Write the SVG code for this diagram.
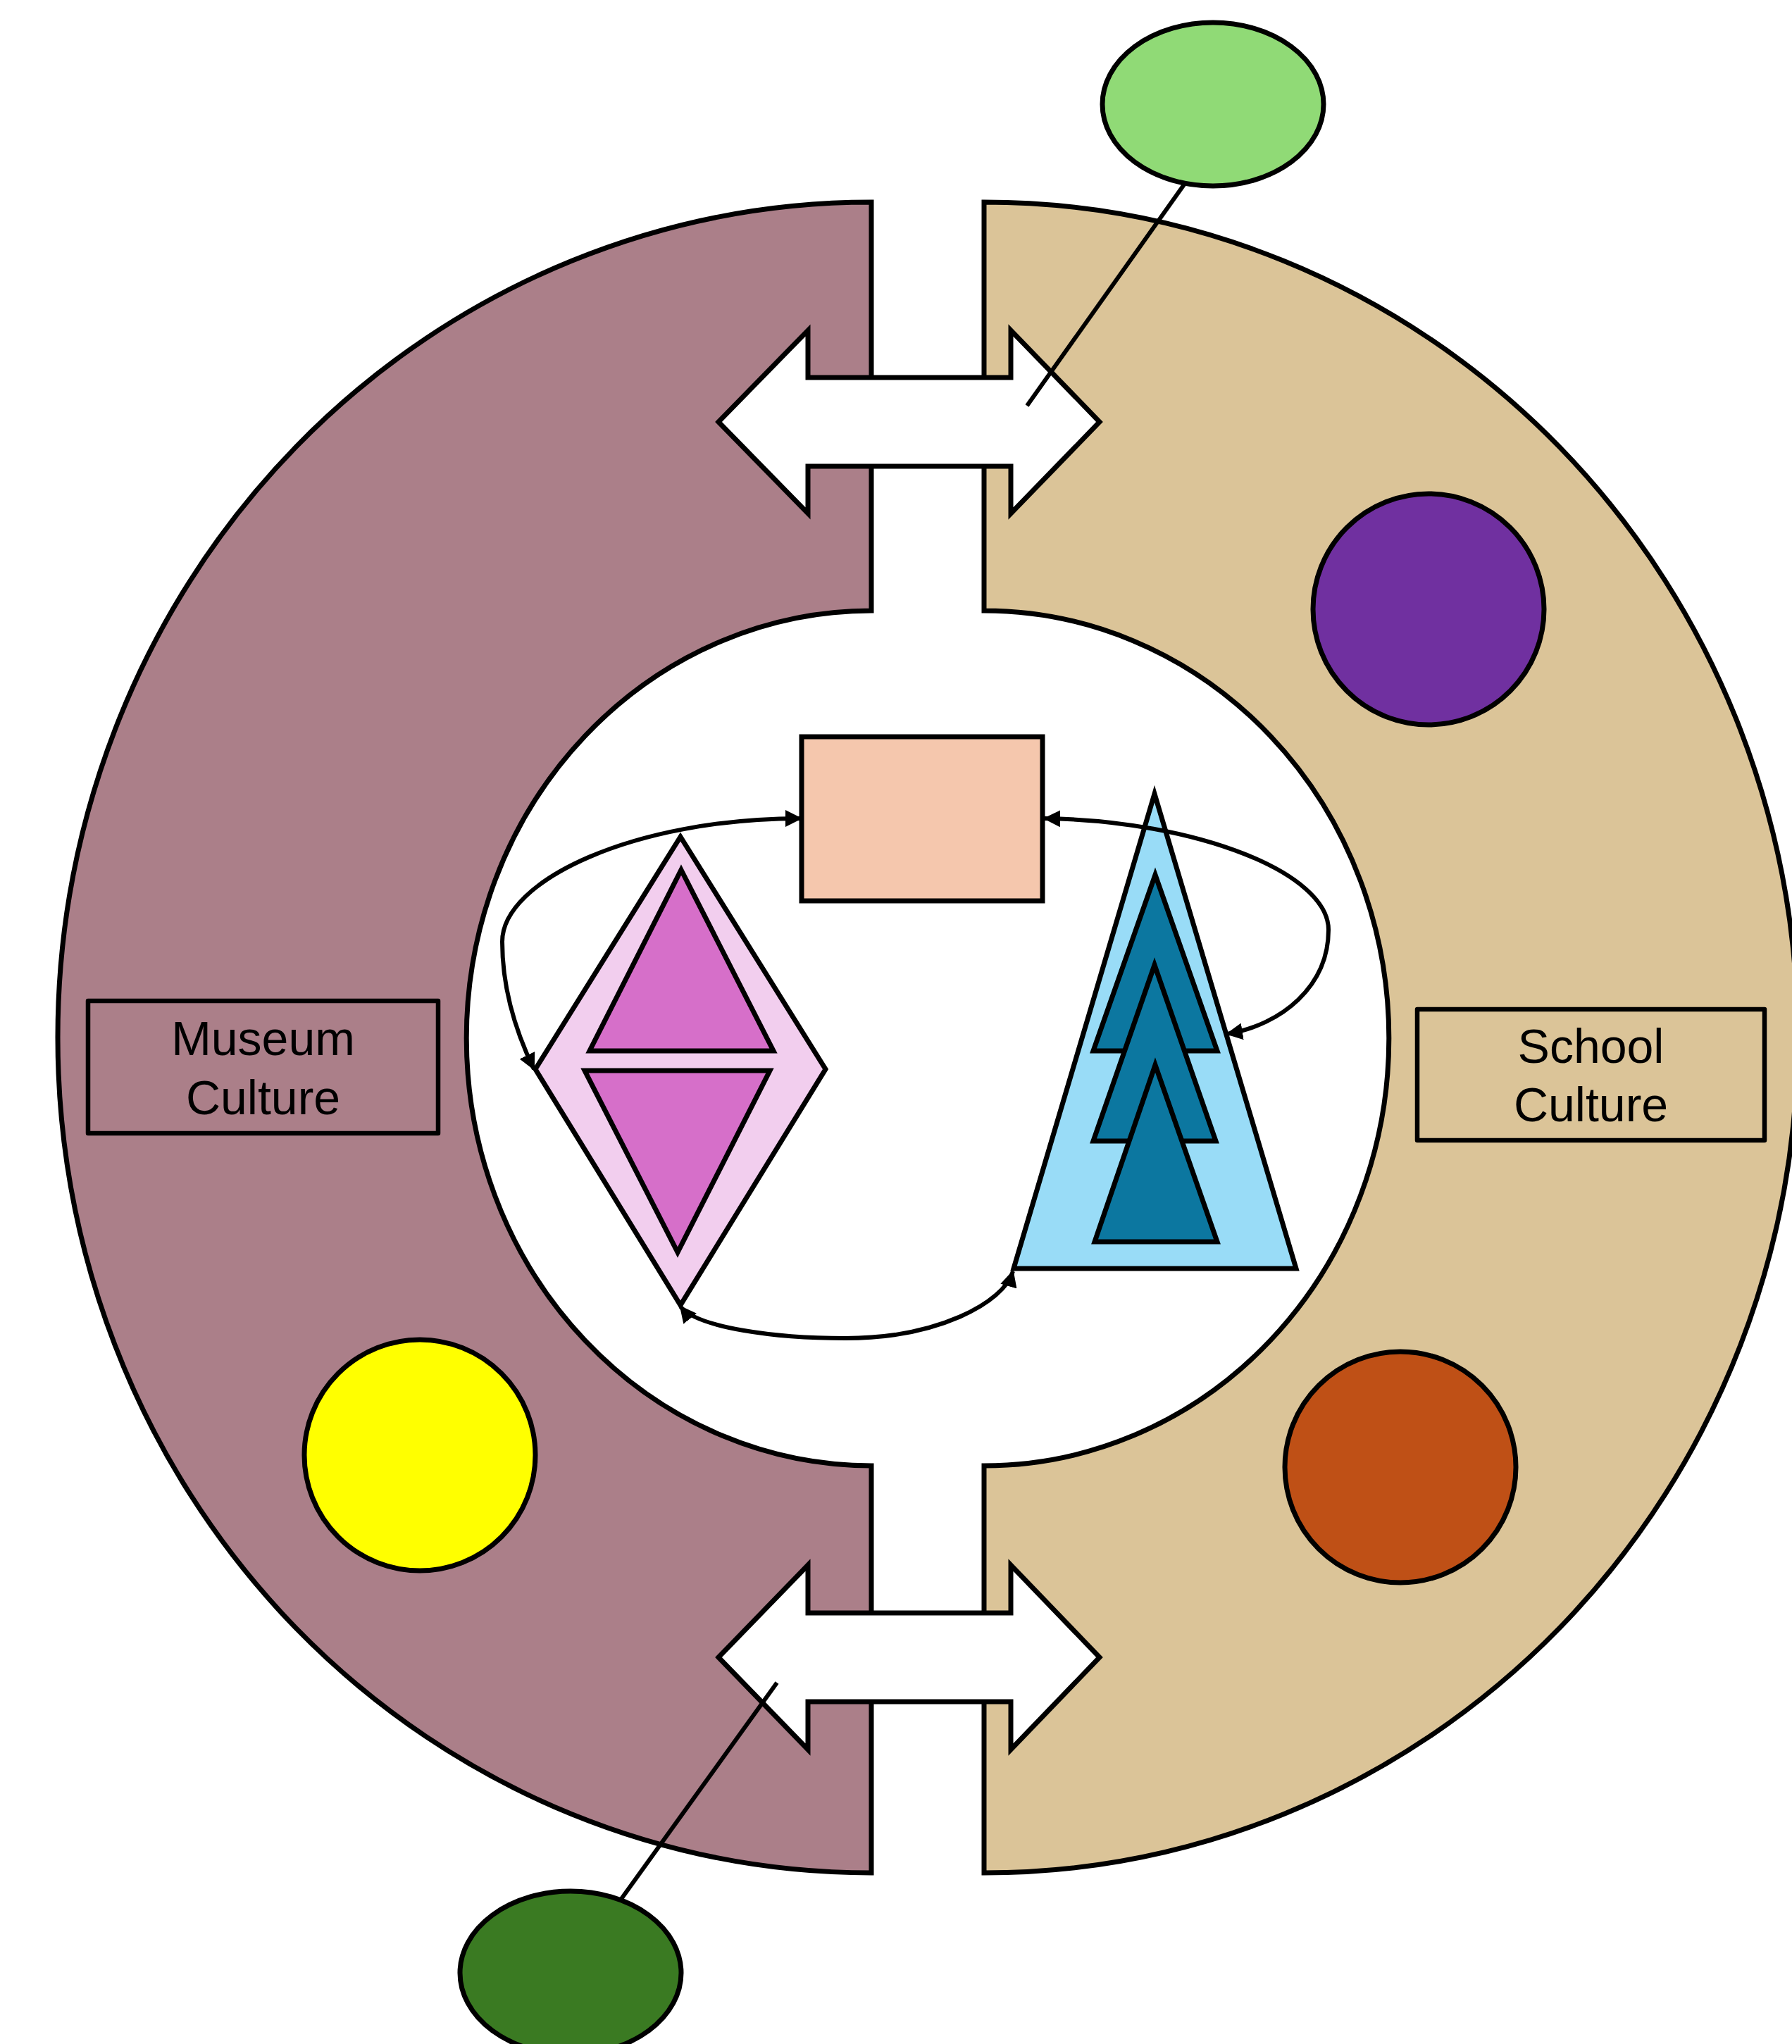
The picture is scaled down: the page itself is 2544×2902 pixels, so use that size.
<svg xmlns="http://www.w3.org/2000/svg" width="2544" height="2902" viewBox="0 0 2544 2902">
  <style>
    .ring { stroke: #000; stroke-width: 7; stroke-linejoin: miter; }
    .shape { stroke: #000; stroke-width: 7; stroke-linejoin: miter; }
    .box { fill: none; stroke: #000; stroke-width: 6.5; stroke-linejoin: round; }
    .label { font-family: "Liberation Sans", Arial, sans-serif; font-size: 68px; fill: #000; text-anchor: middle; }
    .conn { fill: none; stroke: #000; stroke-width: 6; }
    .lead { stroke: #000; stroke-width: 6; }
  </style>
  <defs>
    <marker id="ah" viewBox="0 0 24 24" markerWidth="24" markerHeight="24" refX="22" refY="12" orient="auto-start-reverse" markerUnits="userSpaceOnUse">
      <path d="M0,0 L24,12 L0,24 Z" fill="#000"/>
    </marker>
  </defs>
  <rect width="2544" height="2902" fill="#fff"/>

  <g id="museum-half">
    <path class="ring" fill="#AB7F89" d="M1237,287 L1237,867 A575,607 0 0 0 1237,2081 L1237,2659 A1155,1186 0 0 1 1237,287 Z"/>
  </g>
  <g id="school-half">
    <path class="ring" fill="#DBC498" d="M1397,287 L1397,867 A575,607 0 0 1 1397,2081 L1397,2659 A1155,1186 0 0 0 1397,287 Z"/>
  </g>

  <g id="arrow-top">
    <polygon class="shape" fill="#fff" points="1020,599 1147,469 1147,536 1435,536 1435,469 1561,599 1435,729 1435,662 1147,662 1147,729"/>
  </g>
  <g id="arrow-bottom">
    <polygon class="shape" fill="#fff" points="1020,2353 1147,2222 1147,2290 1435,2290 1435,2222 1561,2353 1435,2484 1435,2416 1147,2416 1147,2484"/>
  </g>

  <g id="museum-label">
    <rect class="box" x="125" y="1421" width="497" height="188"/>
    <text class="label" x="373.5" y="1498">Museum</text>
    <text class="label" x="373.5" y="1582">Culture</text>
  </g>
  <g id="school-label">
    <rect class="box" x="2012" y="1433" width="493" height="186"/>
    <text class="label" x="2258.5" y="1509">School</text>
    <text class="label" x="2258.5" y="1592">Culture</text>
  </g>

  <g id="purple-circle">
    <circle class="shape" fill="#7030A0" cx="2028" cy="865" r="164"/>
  </g>
  <g id="yellow-circle">
    <circle class="shape" fill="#FFFF00" cx="596" cy="2066" r="164"/>
  </g>
  <g id="orange-circle">
    <circle class="shape" fill="#BF5016" cx="1988" cy="2083" r="164"/>
  </g>

  <g id="peach-rect">
    <rect class="shape" fill="#F5C7AD" x="1138" y="1046" width="342" height="233"/>
  </g>

  <g id="diamond">
    <polygon class="shape" fill="#F2CEEE" points="966,1188 1172,1518 966,1853 760,1518"/>
    <polygon class="shape" fill="#D66FC9" points="967,1235 1098,1492 837,1492"/>
    <polygon class="shape" fill="#D66FC9" points="830,1520 1093,1520 962,1778"/>
  </g>

  <g id="tree">
    <polygon class="shape" fill="#99DCF7" points="1639,1127 1840,1801 1439,1801"/>
    <polygon class="shape" fill="#0C77A0" points="1640,1242 1728,1492 1552,1492"/>
    <polygon class="shape" fill="#0C77A0" points="1639,1370 1726,1620 1552,1620"/>
    <polygon class="shape" fill="#0C77A0" points="1640,1512 1728,1763 1554,1763"/>
  </g>

  <g id="connectors">
    <path class="conn" marker-start="url(#ah)" marker-end="url(#ah)" d="M758,1518 C725,1450 713,1390 713,1337 C713,1250 900,1162 1137,1162"/>
    <path class="conn" marker-start="url(#ah)" marker-end="url(#ah)" d="M1483,1162 C1700,1165 1886,1240 1886,1320 C1886,1400 1820,1455 1742,1468"/>
    <path class="conn" marker-start="url(#ah)" marker-end="url(#ah)" d="M966,1855 C990,1885 1100,1900 1200,1900 C1330,1900 1425,1850 1438,1805"/>
    <line class="lead" x1="1681" y1="262" x2="1458" y2="576"/>
    <line class="lead" x1="882" y1="2696" x2="1103" y2="2389"/>
  </g>

  <g id="green-top">
    <ellipse class="shape" fill="#90DA76" cx="1722" cy="148" rx="157" ry="116"/>
  </g>
  <g id="green-bottom">
    <ellipse class="shape" fill="#3A7A22" cx="810" cy="2801" rx="157" ry="116"/>
  </g>
</svg>
